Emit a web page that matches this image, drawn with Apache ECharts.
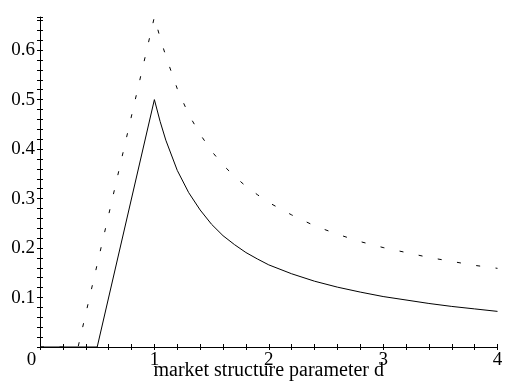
<!DOCTYPE html>
<html>
<head>
<meta charset="utf-8">
<script src="https://cdn.jsdelivr.net/npm/echarts@6/dist/echarts.min.js"></script>
<style>
  html, body { margin: 0; background: #fff; }
  #chart { width: 505px; height: 390px; }
</style>
</head>
<body>
<div id="chart"></div>
<script>
/* ---------- data ---------- */
const dSolid = [0, 0.5, 1, 1.05, 1.1, 1.2, 1.3, 1.4, 1.5, 1.6, 1.7, 1.8, 1.9, 2.0,
  2.2, 2.4, 2.6, 2.8, 3.0, 3.2, 3.4, 3.6, 3.8, 4.0];
const vSolid = [0, 0, 0.5, 0.456, 0.418, 0.357, 0.312, 0.277, 0.248, 0.225, 0.207, 0.191, 0.178, 0.166,
  0.148, 0.133, 0.121, 0.111, 0.102, 0.095, 0.088, 0.082, 0.077, 0.072];

const dDotted = [0, 0.333, 1, 1.05, 1.1, 1.2, 1.3, 1.4, 1.5, 1.6, 1.7, 1.8, 1.9, 2.0,
  2.2, 2.4, 2.6, 2.8, 3.0, 3.2, 3.4, 3.6, 3.8, 4.0];
const vDotted = [0, 0, 0.667, 0.625, 0.588, 0.522, 0.47, 0.43, 0.396, 0.368, 0.345, 0.325, 0.308, 0.292,
  0.267, 0.245, 0.228, 0.213, 0.201, 0.191, 0.181, 0.173, 0.165, 0.159];

const xTickLabels = [0, 1, 2, 3, 4];
const yTickLabels = [0.1, 0.2, 0.3, 0.4, 0.5, 0.6];

const FONT = '"Liberation Serif", "DejaVu Serif", serif';

function hasLabel(list, v) {
  return list.some((t) => Math.abs(t - v) < 1e-6);
}

/* ---------- axes: two copies each so ticks cross the line ---------- */
function xAxisBase(inside) {
  return {
    type: 'value',
    position: 'bottom',
    min: 0,
    max: 4,
    interval: 0.2,
    splitLine: { show: false },
    axisLine: { show: !inside, onZero: false, lineStyle: { color: '#000', width: 1 } },
    axisTick: { inside: inside, length: 3, lineStyle: { color: '#000', width: 1 } },
    axisLabel: { show: false },
  };
}

function yAxisBase(inside) {
  return {
    type: 'value',
    position: 'left',
    min: 0,
    max: 0.667,
    interval: 0.02,
    splitLine: { show: false },
    axisLine: { show: !inside, onZero: false, lineStyle: { color: '#000', width: 1 } },
    axisTick: { inside: inside, length: 3, lineStyle: { color: '#000', width: 1 } },
    axisLabel: { show: false },
  };
}

const xMain = xAxisBase(false);
xMain.axisLabel = {
  show: true,
  color: '#000',
  fontFamily: FONT,
  fontSize: 19,
  margin: 4,
  showMaxLabel: true,
  formatter: (v) => {
    if (!hasLabel(xTickLabels, v)) return '';
    return v === 0 ? '{o|0}' : String(Math.round(v));
  },
  rich: { o: { color: '#000', fontFamily: FONT, fontSize: 19, padding: [0, 17, 0, 0] } },
};
xMain.name = 'market structure parameter d';
xMain.nameLocation = 'middle';
xMain.nameGap = 14;
xMain.nameMoveOverlap = false;
xMain.nameTextStyle = { color: '#000', fontFamily: FONT, fontSize: 20 };

const yMain = yAxisBase(false);
yMain.axisLabel = {
  show: true,
  color: '#000',
  fontFamily: FONT,
  fontSize: 19,
  margin: 5,
  formatter: (v) => (hasLabel(yTickLabels, v) ? String(Math.round(v * 10) / 10) : ''),
};

const chart = echarts.init(document.getElementById('chart'));
chart.setOption({
  backgroundColor: '#fff',
  animation: false,
  grid: { left: 40, right: 7.5, top: 17, bottom: 43, outerBoundsMode: 'none' },
  xAxis: [xMain, xAxisBase(true)],
  yAxis: [yMain, yAxisBase(true)],
  series: [
    {
      type: 'line',
      xAxisIndex: 0,
      yAxisIndex: 0,
      data: dSolid.map((d, i) => [d, vSolid[i]]),
      showSymbol: false,
      clip: false,
      lineStyle: { color: '#000', width: 1 },
    },
    {
      type: 'line',
      xAxisIndex: 0,
      yAxisIndex: 0,
      data: dDotted.map((d, i) => [d, vDotted[i]]),
      showSymbol: false,
      clip: false,
      lineStyle: { color: '#000', width: 1, type: [4, 15.5] },
    },
  ],
});
</script>
</body>
</html>
